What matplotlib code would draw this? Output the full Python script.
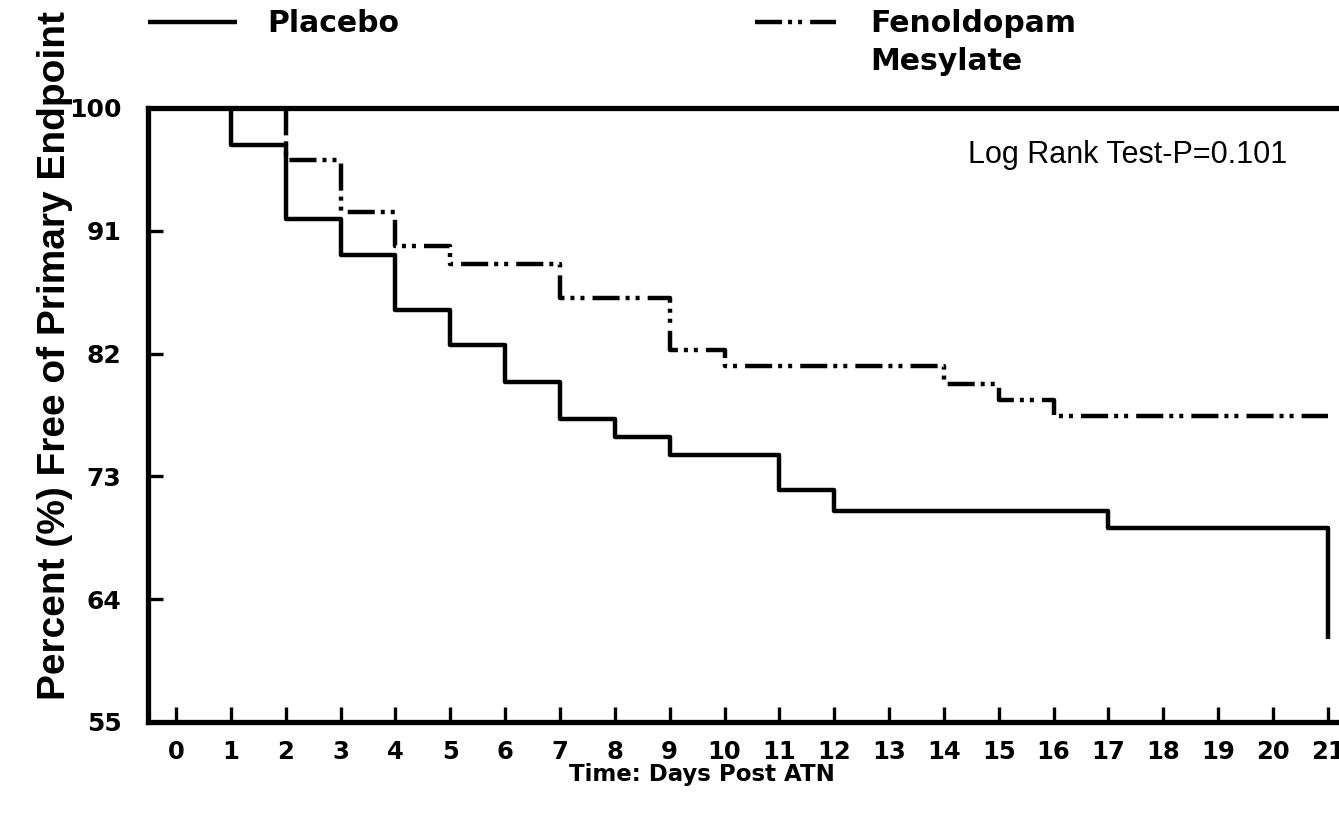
import matplotlib
matplotlib.use("Agg")
import matplotlib.pyplot as plt
from matplotlib.lines import Line2D

plt.rcParams['lines.scale_dashes'] = False

# Kaplan-Meier step data (days post ATN, percent free of primary endpoint)
placebo_days = [0, 1, 2, 3, 4, 5, 6, 7, 8, 9, 11, 12, 17, 21]
placebo_pct = [100, 97.3, 91.9, 89.2, 85.2, 82.6, 79.9, 77.2, 75.9, 74.6, 72.0, 70.5, 69.2, 61.1]

fenoldopam_days = [0, 2, 3, 4, 5, 7, 9, 10, 14, 15, 16, 21]
fenoldopam_pct = [100, 96.2, 92.4, 89.9, 88.6, 86.1, 82.3, 81.1, 79.8, 78.6, 77.4, 77.4]

x_ticks = list(range(0, 22))
y_ticks = [55, 64, 73, 82, 91, 100]

bold = 'DejaVu Sans'
dash_dot_dot = (0, (19.5, 4.3, 2.9, 4.3, 2.9, 5.8))
px_per_day = 54.85

fig = plt.figure(figsize=(13.39, 8.14), dpi=100)
ax = fig.add_axes([148 / 1339, 92 / 814, (1370 - 148) / 1339, 614 / 814])

ax.plot(placebo_days, placebo_pct, drawstyle='steps-post', color='black',
        lw=3.2, solid_capstyle='butt', zorder=2)
ax.plot(fenoldopam_days, fenoldopam_pct, drawstyle='steps-post', color='black',
        lw=3.2, linestyle=dash_dot_dot, dash_capstyle='butt', zorder=2)

ax.set_xlim((148 - 176) / px_per_day, (1370 - 176) / px_per_day)
ax.set_ylim(55, 100)
ax.set_xticks(x_ticks)
ax.set_yticks(y_ticks)
ax.set_xticklabels([str(t) for t in x_ticks], fontfamily=bold, fontweight='bold', fontsize=17.5)
ax.set_yticklabels([str(t) for t in y_ticks], fontfamily=bold, fontweight='bold', fontsize=18)
ax.tick_params(axis='both', direction='in', length=11, width=2.4, color='black')
ax.tick_params(axis='x', pad=13)
ax.tick_params(axis='y', pad=19)

for side in ['left', 'bottom', 'top']:
    ax.spines[side].set_linewidth(3.8)
    ax.spines[side].set_zorder(3)
ax.spines['right'].set_visible(False)

fig.text(55 / 1339, 1 - 355 / 814, 'Percent (%) Free of Primary Endpoint', rotation=90,
         ha='center', va='center', fontfamily='Liberation Sans', fontweight='bold', fontsize=28)
fig.text(702 / 1339, 1 - 775 / 814, 'Time: Days Post ATN', ha='center', va='center',
         fontfamily=bold, fontweight='bold', fontsize=16.5)

fig.text(968 / 1339, 1 - 155 / 814, 'Log Rank Test-P=0.101', ha='left', va='center',
         fontfamily='Liberation Sans', fontsize=22)

# legend drawn above the axes
fig.add_artist(Line2D([148 / 1339, 237 / 1339], [1 - 22 / 814, 1 - 22 / 814],
                      color='black', lw=3.2, solid_capstyle='butt'))
fig.text(267 / 1339, 1 - 23 / 814, 'Placebo', ha='left', va='center',
         fontfamily=bold, fontweight='bold', fontsize=21.5)
fig.add_artist(Line2D([755 / 1339, 836 / 1339], [1 - 22 / 814, 1 - 22 / 814],
                      color='black', lw=3.2, linestyle=dash_dot_dot, dash_capstyle='butt'))
fig.text(870 / 1339, 1 - 23 / 814, 'Fenoldopam', ha='left', va='center',
         fontfamily=bold, fontweight='bold', fontsize=21.5)
fig.text(870 / 1339, 1 - 61 / 814, 'Mesylate', ha='left', va='center',
         fontfamily=bold, fontweight='bold', fontsize=21.5)

fig.savefig('out.png', dpi=100)
